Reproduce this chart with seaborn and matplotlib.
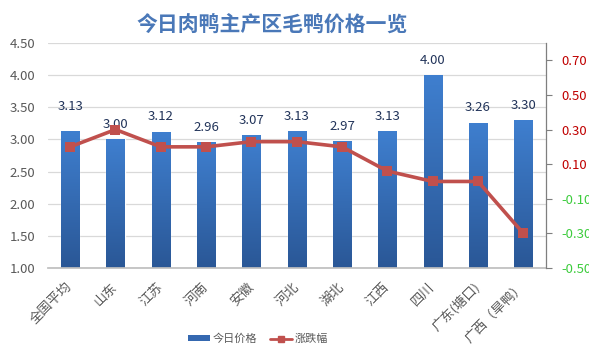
import numpy as np
import pandas as pd
import matplotlib
matplotlib.use("Agg")
import matplotlib.pyplot as plt
import seaborn as sns
from matplotlib.lines import Line2D
from matplotlib.patches import Patch

regions = ["全国平均", "山东", "江苏", "河南", "安徽", "河北", "湖北", "江西", "四川", "广东(塘口)", "广西（旱鸭）"]
prices = [3.13, 3.00, 3.12, 2.96, 3.07, 3.13, 2.97, 3.13, 4.00, 3.26, 3.30]
changes = [0.20, 0.30, 0.20, 0.20, 0.23, 0.23, 0.20, 0.06, 0.00, 0.00, -0.30]
left_ticks = [1.00, 1.50, 2.00, 2.50, 3.00, 3.50, 4.00, 4.50]
right_ticks = [-0.50, -0.30, -0.10, 0.10, 0.30, 0.50, 0.70]
title = "今日肉鸭主产区毛鸭价格一览"
legend_labels = ["今日价格", "涨跌幅"]

sns.set_theme(style="white")
plt.rcParams['font.family'] = ['Noto Sans CJK SC', 'DejaVu Sans']

df = pd.DataFrame({"region": regions, "price": prices, "change": changes})

W, H = 589, 352
fig = plt.figure(figsize=(W / 100, H / 100), dpi=100)
x0, x1, yt, yb = 47.5, 546, 43, 268
ax = fig.add_axes([x0 / W, 1 - yb / H, (x1 - x0) / W, (yb - yt) / H])

sns.barplot(data=df, x="region", y="price", ax=ax, width=0.4, color="#3a74c0",
            saturation=1, zorder=3)
ax.set_ylim(1.0, 4.5)
ax.set_xlim(-0.5, len(regions) - 0.5)
ax.set_yticks(left_ticks)
ax.set_yticklabels([f"{v:.2f}" for v in left_ticks], color="#595959", fontsize=9.5)
ax.grid(axis="y", color="#d9d9d9", linewidth=0.9, zorder=0)
ax.tick_params(axis="y", length=0, pad=9)
ax.tick_params(axis="x", length=0, pad=12)
for s in ["top", "left", "right"]:
    ax.spines[s].set_visible(False)
ax.spines["bottom"].set_color("#bfbfbf")
ax.spines["bottom"].set_zorder(4)
ax.set_xlabel("")
ax.set_ylabel("")
ax.set_xticks(range(len(regions)))
ax.set_xticklabels(regions, rotation=45, ha="right", va="center", rotation_mode="anchor",
                   color="#595959", fontsize=9.5)

# gradient fill inside bars
grad = np.linspace(0, 1, 256).reshape(-1, 1)
cmap = matplotlib.colors.LinearSegmentedColormap.from_list("b", ["#2a5796", "#3f7fcf"])
for p in ax.patches:
    bx, by = p.get_x(), p.get_y()
    bw, bh = p.get_width(), p.get_height()
    im = ax.imshow(grad, extent=(bx, bx + bw, 1.0, by + bh), origin="lower",
                   cmap=cmap, aspect="auto", zorder=3.5)
    im.set_clip_path(p)

ax.set_xlim(-0.5, len(regions) - 0.5)
ax.set_ylim(1.0, 4.5)

labels = ax.bar_label(ax.containers[0], fmt="%.2f", padding=6, color="#22345a",
                      fontsize=9.5, zorder=6)
labels[0].xyann = (0, 13)

ax2 = ax.twinx()
ax2.set_position(ax.get_position())
sns.lineplot(x=np.arange(len(regions)), y=changes, ax=ax2, color="#c0504d",
             linewidth=2.6, marker="s", markersize=6.5, markeredgewidth=0,
             zorder=5)
ax2.set_ylim(-0.5, 0.8)
ax2.set_yticks(right_ticks)
ax2.set_yticklabels([f"{v:.2f}" for v in right_ticks], fontsize=9.5)
for lab, v in zip(ax2.get_yticklabels(), right_ticks):
    lab.set_color("#c00000" if v > 0 else "#3dcc3d")
ax2.tick_params(axis="y", length=4, width=0.8, color="#7f7f7f", pad=7, direction="out")
for s in ["top", "left", "bottom"]:
    ax2.spines[s].set_visible(False)
ax2.spines["right"].set_color("#7f7f7f")
ax2.spines["right"].set_linewidth(0.9)
ax2.set_ylabel("")
ax2.set_xlim(-0.5, len(regions) - 0.5)

fig.text(272 / W, 1 - 25 / H, title, ha="center", va="center", fontsize=15,
         fontweight="bold", color="#4a78b8")

handles = [Patch(facecolor="#3568b0", edgecolor="none"),
           Line2D([0], [0], color="#c0504d", linewidth=2, marker="s", markersize=5)]
fig.legend(handles, legend_labels, loc="center", bbox_to_anchor=(258 / W, 1 - 339 / H),
           ncol=2, frameon=False, fontsize=8, handlelength=2.0, handleheight=0.5,
           columnspacing=1.2, handletextpad=0.2, labelcolor="#595959")

fig.savefig("out.png", dpi=100, facecolor="white")
